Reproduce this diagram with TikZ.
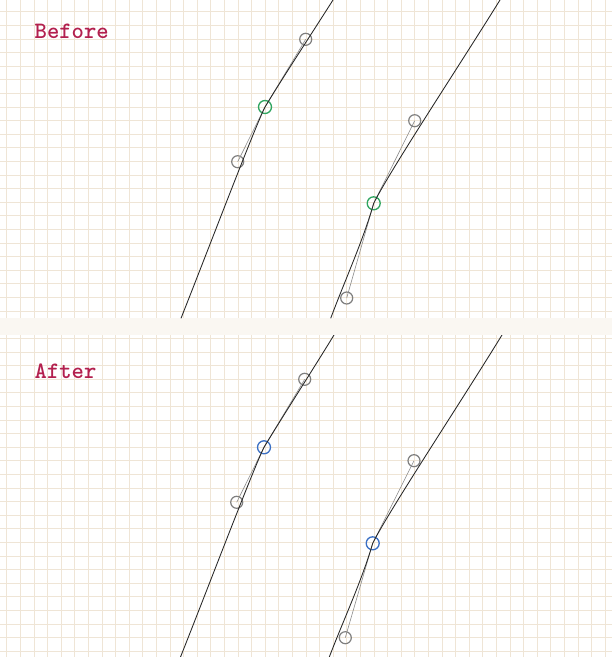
\documentclass[tikz,border=0pt]{standalone}
\usepackage{fontspec}
\definecolor{gridc}{HTML}{EFE5D6}
\definecolor{bandc}{HTML}{FAF7F2}
\definecolor{titlec}{HTML}{B3204E}
\definecolor{anchg}{HTML}{2FA560}
\definecolor{anchb}{HTML}{3A6FC4}
\definecolor{handc}{HTML}{7F7F7F}
\tikzset{
  gridline/.style={draw=gridc, line width=0.7pt},
  curveline/.style={draw=black!85, line width=0.85pt},
  handleline/.style={draw=black!45, line width=0.6pt},
  handlept/.style={circle, draw=handc, line width=1.2pt, minimum size=12pt, inner sep=0pt},
  anchorpt/.style={circle, line width=1.3pt, minimum size=13pt, inner sep=0pt},
  titletext/.style={anchor=base west, inner sep=0pt, text=titlec, font=\fontsize{23.5}{23.5}\selectfont\ttfamily\bfseries}
}
\begin{document}
\begin{tikzpicture}[x=1pt,y=-1pt]
\useasboundingbox (0,0) rectangle (612,657);
\fill[white] (0,0) rectangle (612,657);
% top panel grid
\begin{scope}
\clip (0,0) rectangle (612,318.3);
\foreach \i in {0,...,44} \draw[gridline] ({6.7+13.6*\i},0) -- ({6.7+13.6*\i},318.3);
\foreach \j in {0,...,22} \draw[gridline] (0,{11.7+13.6*\j}) -- (612,{11.7+13.6*\j});
\end{scope}
% bottom panel grid
\begin{scope}
\clip (0,335) rectangle (612,657);
\foreach \i in {0,...,44} \draw[gridline] ({6.7+13.6*\i},335) -- ({6.7+13.6*\i},657);
\foreach \j in {0,...,23} \draw[gridline] (0,{338.3+13.6*\j}) -- (612,{338.3+13.6*\j});
\end{scope}
\fill[bandc] (0,318.3) rectangle (612,335);

% ---------- Before ----------
\node[titletext] (tbefore) at (34.5,38.3) {Before};
\begin{scope}
\clip (0,0) rectangle (612,318.3);
\coordinate (s1) at (181,318.3);
\coordinate (e1) at (333,0);
\coordinate (s2) at (330.7,318.3);
\coordinate (e2) at (500,0);
\node[anchorpt, draw=anchg] (a1) at (265,107) {};
\node[handlept] (h1a) at (237.7,161.7) {};
\node[handlept] (h1b) at (305.7,39.3) {};
\node[anchorpt, draw=anchg] (a2) at (373.7,203.3) {};
\node[handlept] (h2a) at (346.7,298) {};
\node[handlept] (h2b) at (414.7,120.7) {};
\draw[handleline] (h1a.center) -- (a1.center) -- (h1b.center);
\draw[handleline] (h2a.center) -- (a2.center) -- (h2b.center);
\draw[curveline] (s1) .. controls (209,247.7) and (254.1,128.9) .. (a1.center)
  .. controls (281.3,79.9) and (310.3,35.7) .. (e1);
\draw[curveline] (s2) .. controls (345,280) and (362.9,241.2) .. (a2.center)
  .. controls (390.1,170.3) and (457.9,67.8) .. (e2);
\end{scope}

% ---------- After ----------
\node[titletext] (tafter) at (34.5,378.3) {After};
\begin{scope}
\clip (0,335) rectangle (612,657);
\coordinate (s3) at (180.5,657);
\coordinate (e3) at (334,335);
\coordinate (s4) at (329.3,657);
\coordinate (e4) at (502,335);
\node[anchorpt, draw=anchb] (a3) at (264,447.3) {};
\node[handlept] (h3a) at (236.7,502.3) {};
\node[handlept] (h3b) at (304.7,379.3) {};
\node[anchorpt, draw=anchb] (a4) at (372.7,543.3) {};
\node[handlept] (h4a) at (345.3,637.7) {};
\node[handlept] (h4b) at (414,460.7) {};
\draw[handleline] (h3a.center) -- (a3.center) -- (h3b.center);
\draw[handleline] (h4a.center) -- (a4.center) -- (h4b.center);
\draw[curveline] (s3) .. controls (208.3,587.1) and (253.1,469.3) .. (a3.center)
  .. controls (280.3,420.1) and (310.7,373.1) .. (e3);
\draw[curveline] (s4) .. controls (343.8,619.1) and (361.7,581.1) .. (a4.center)
  .. controls (389.2,510.3) and (458.9,405.1) .. (e4);
\end{scope}
\end{tikzpicture}
\end{document}
